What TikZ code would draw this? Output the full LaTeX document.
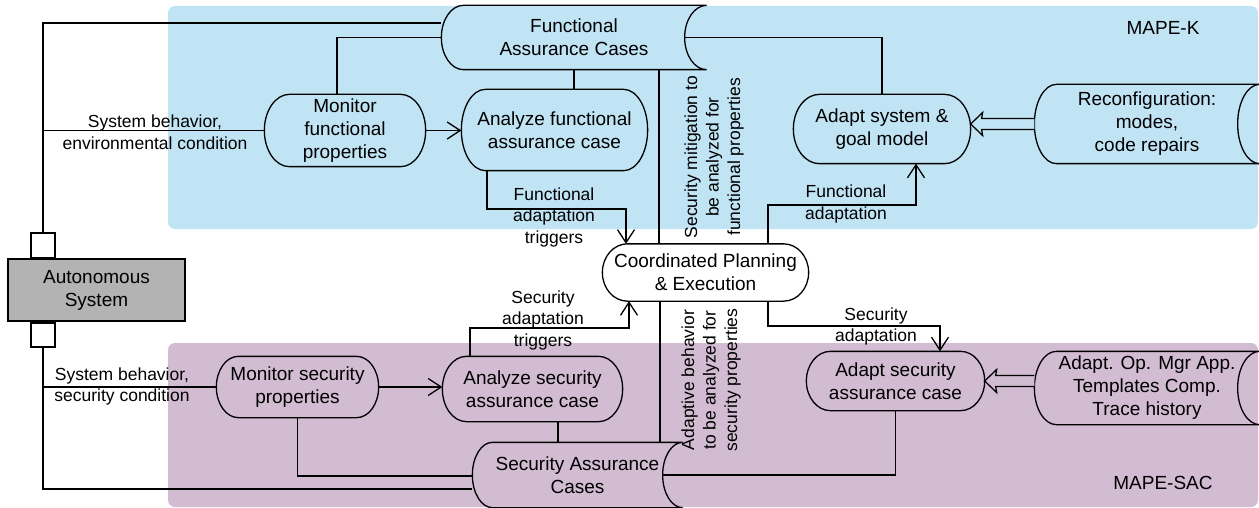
\documentclass[tikz,border=0pt]{standalone}
\usepackage{fontspec}
\setmainfont{Liberation Sans}
\usetikzlibrary{arrows.meta,calc}
\definecolor{kblue}{RGB}{193,228,245}
\definecolor{sacpurple}{RGB}{210,188,210}
\definecolor{sysgray}{RGB}{179,179,179}
\pgfdeclarelayer{bg}
\pgfdeclarelayer{conn}
\pgfdeclarelayer{shp}
\pgfsetlayers{bg,conn,shp,main}
% outline of a "data storage" node: convex left side, concave right side
\newcommand\storeoutline[3]{%
  \draw[fill=#3] let \p1=(#1.north west), \p2=(#1.south east), \n1={(\y1-\y2)/2} in
    (\x1+#2pt,\y1) arc[start angle=90,end angle=270,x radius=#2pt,y radius=\n1]
    -- (\x2,\y2) arc[start angle=270,end angle=90,x radius=#2pt,y radius=\n1]
    -- cycle;}
% outline of a process node: box with half-elliptic ends
\newcommand\procoutline[3]{%
  \draw[fill=#3] let \p1=(#1.north west), \p2=(#1.south east), \n1={(\y1-\y2)/2} in
    (\x1+#2pt,\y1) -- (\x2-#2pt,\y1)
    arc[start angle=90,end angle=-90,x radius=#2pt,y radius=\n1]
    -- (\x1+#2pt,\y2)
    arc[start angle=270,end angle=90,x radius=#2pt,y radius=\n1]
    -- cycle;}
% hollow double arrow pointing left from #1 to #2 (both at the same height)
\newcommand\dblarrow[3]{%
  \draw[fill=#3] let \p1=(#1), \p2=(#2) in
    (\x1,\y1+5.5pt) -- (\x2+11pt,\y1+5.5pt) -- (\x2+12pt,\y1+11.5pt) -- (\x2,\y1)
    -- (\x2+12pt,\y1-11.5pt) -- (\x2+11pt,\y1-5.5pt) -- (\x1,\y1-5.5pt);}
\tikzset{
  every path/.style={line width=1.3pt},
  ntext/.style={font=\fontsize{19}{23}\selectfont, align=center, inner sep=0pt},
  ltext/.style={font=\fontsize{17.5}{21.5}\selectfont, align=center, inner sep=0pt},
  proc/.style={ntext, rectangle},
  store/.style={ntext, rectangle},
  arr/.style={-{Straight Barb[length=13pt,width=17pt]}},
}
\begin{document}
\begin{tikzpicture}[x=1pt,y=-1pt]
\useasboundingbox (0,0) rectangle (1259,508);

% regions
\begin{pgfonlayer}{bg}
  \fill[kblue, rounded corners=7pt] (168,6) rectangle (1258,229);
  \fill[sacpurple, rounded corners=7pt] (168,343) rectangle (1258,507);
\end{pgfonlayer}

% autonomous system and its ports
\node[ntext, draw, fill=sysgray, minimum width=177pt, minimum height=62pt] (auto) at (96.5,290) {Autonomous\\System};
\node[draw, fill=white, minimum width=24pt, minimum height=25pt, inner sep=0pt] (sqtop) at (43,245.5) {};
\node[draw, fill=white, minimum width=24pt, minimum height=24pt, inner sep=0pt] (sqbot) at (43,335) {};

% MAPE-K loop
\node[store, minimum width=264pt, minimum height=63pt] (facs) at (574,37.5) {Functional\\Assurance Cases};
\node[proc, minimum width=160pt, minimum height=71pt] (monf) at (345,130.5) {Monitor\\functional\\properties};
\node[proc, minimum width=185pt, minimum height=80pt] (anaf) at (554.5,130) {Analyze functional\\assurance case};
\node[proc, minimum width=176pt, minimum height=68pt] (adsys) at (882,129) {Adapt system \&\\goal model};
\node[store, minimum width=224pt, minimum height=78pt] (reconf) at (1147,124) {Reconfiguration:\\modes,\\code repairs};
\node[ntext] (mapek) at (1163,28) {MAPE-K};

% coordination
\node[proc, minimum width=205pt, minimum height=56pt] (coord) at (705.5,272.5) {Coordinated Planning\\\& Execution};

% MAPE-SAC loop
\node[proc, minimum width=161pt, minimum height=60pt] (mons) at (297.5,387) {Monitor security\\properties};
\node[proc, minimum width=179pt, minimum height=64pt] (anas) at (532.5,389) {Analyze security\\assurance case};
\node[proc, minimum width=177pt, minimum height=58pt] (adsec) at (895.5,381) {Adapt security\\assurance case};
\node[store, minimum width=224pt, minimum height=72pt] (secst) at (1147,388) {Adapt. Op. Mgr App.\\Templates Comp.\\Trace history};
\node[store, minimum width=209pt, minimum height=64pt] (sacs) at (577.5,475) {Security Assurance\\Cases};
\node[ntext] (mapesac) at (1163,483) {MAPE-SAC};

% points on the concave sides of the stores
\coordinate (facs-r) at ($(facs.east)+(-26,0)$);
\coordinate (sacs-r) at ($(sacs.east)+(-20,0)$);

% connectors
\begin{pgfonlayer}{conn}
  \draw (sqtop.north) |- (facs.west |- 0,23);
  \draw (sqtop.north |- monf.west) -- (monf.west);
  \draw ([xshift=-8pt]monf.north) |- (facs.west);
  \draw[arr] (monf.east) -- (anaf.west |- monf.east);
  \draw (facs.south) -- (facs.south |- anaf.north);
  \draw (facs-r) -| (adsys.north);
  \draw[arr] (anaf.south -| 487,0) |- (626,209) -- (coord.north -| 626,0);
  \draw (facs.south -| 659,0) -- (coord.north -| 659,0);
  \draw[arr] (coord.north -| 768,0) |- (916,205) -- (adsys.south -| 916,0);

  \draw (sqbot.south) |- (sacs.west |- 0,489);
  \draw (sqbot.south |- mons.west) -- (mons.west);
  \draw[arr] (mons.east) -- (anas.west |- mons.east);
  \draw (anas.south -| 558,0) -- (sacs.north -| 558,0);
  \draw (mons.south) |- (sacs.west |- 0,476);
  \draw (sacs-r) -| (adsec.south);
  \draw[arr] (anas.north -| 470,0) |- (629,328) -- (coord.south -| 629,0);
  \draw (coord.south -| 660,0) -- (sacs.north -| 660,0);
  \draw[arr] (coord.south -| 768,0) |- (940,326) -- (adsec.north -| 940,0);
\end{pgfonlayer}

% node outlines
\begin{pgfonlayer}{shp}
  \storeoutline{facs}{22}{kblue}
  \storeoutline{reconf}{22}{kblue}
  \storeoutline{secst}{22}{sacpurple}
  \storeoutline{sacs}{20}{sacpurple}
  \procoutline{monf}{25}{kblue}
  \procoutline{anaf}{24}{kblue}
  \procoutline{adsys}{26}{kblue}
  \procoutline{coord}{25}{white}
  \procoutline{mons}{22}{sacpurple}
  \procoutline{anas}{24}{sacpurple}
  \procoutline{adsec}{24}{sacpurple}
  \dblarrow{reconf.west}{adsys.east |- reconf.west}{kblue}
  \dblarrow{secst.west |- adsec.east}{adsec.east}{sacpurple}
\end{pgfonlayer}

% connector labels
\node[ltext] (lenv) at (155,132) {System behavior,\\environmental condition};
\node[ltext] (lsec) at (122,386.5) {System behavior,\\security condition};
\node[ltext] (lfat) at (554,217) {Functional\\adaptation\\triggers};
\node[ltext] (lfa) at (846,204) {Functional\\adaptation};
\node[ltext] (lsat) at (543,320) {Security\\adaptation\\triggers};
\node[ltext] (lsa) at (876,326.5) {Security\\adaptation};
\node[ltext, rotate=90] (lmit) at (714,157) {Security mitigation to\\be analyzed for\\functional properties};
\node[ltext, rotate=90] (ladp) at (711,380) {Adaptive behavior\\to be analyzed for\\security properties};
\end{tikzpicture}
\end{document}
